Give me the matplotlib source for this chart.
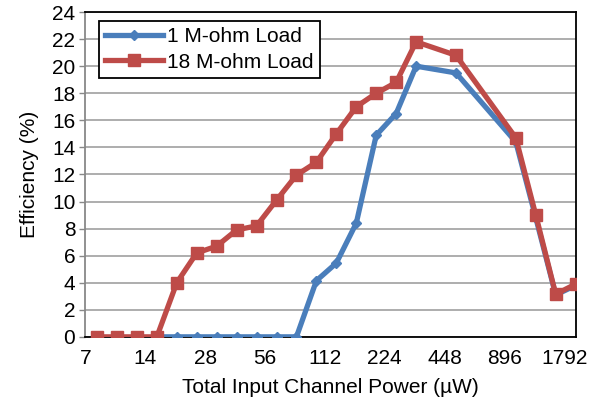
import matplotlib
matplotlib.use("Agg")
import matplotlib.pyplot as plt
import numpy as np

plt.rcParams['font.family'] = ['Liberation Sans', 'DejaVu Sans']

# power steps: 8 * 2^(k/3), k = 0..24
step_index = np.arange(25)
power_uw = 8 * 2 ** (step_index / 3)

eff_1m = [np.nan, np.nan, np.nan, 0, 0, 0, 0, 0, 0, 0, 0, 4.15, 5.45, 8.4, 14.9, 16.5,
          20.0, np.nan, 19.5, np.nan, np.nan, 14.4, 8.8, 3.1, 3.8]
eff_18m = [0, 0, 0, 0, 4.0, 6.2, 6.7, 7.9, 8.2, 10.1, 11.95, 12.9, 15.0, 17.0, 18.0, 18.8,
           21.8, np.nan, 20.8, np.nan, np.nan, 14.7, 9.0, 3.15, 3.9]

xticks = [7, 14, 28, 56, 112, 224, 448, 896, 1792]
yticks = list(range(0, 25, 2))

blue = '#4A7EBB'
red = '#BE4B48'

fig = plt.figure(figsize=(6.05, 4.01), dpi=100)
ax = fig.add_axes([0.1405, 0.160, 0.811, 0.810])

x1 = np.array(power_uw); y1 = np.array(eff_1m, dtype=float)
m1 = ~np.isnan(y1)
x2 = np.array(power_uw); y2 = np.array(eff_18m, dtype=float)
m2 = ~np.isnan(y2)

ax.plot(x1[m1], y1[m1], color=blue, lw=3.8, marker='D', ms=5.5, label='1 M-ohm Load', zorder=3)
ax.plot(x2[m2], y2[m2], color=red, lw=3.8, marker='s', ms=8.5, label='18 M-ohm Load', zorder=4)

ax.set_xscale('log', base=2)
ax.set_xlim(6.96, 2048)
ax.set_ylim(0, 24)
ax.set_xticks(xticks)
ax.set_xticklabels([str(t) for t in xticks])
ax.minorticks_off()
ax.set_yticks(yticks)
ax.tick_params(axis='both', labelsize=15, length=4, width=1, color='#888888')
ax.tick_params(axis='x', length=0, pad=9)
ax.tick_params(axis='y', pad=3)
ax.grid(axis='y', color='#A0A0A0', lw=1.2)
ax.set_axisbelow(True)
for s in ['top', 'right', 'bottom']:
    ax.spines[s].set_color('black')
    ax.spines[s].set_linewidth(1.3)
ax.spines['left'].set_color('#888888')
ax.spines['left'].set_linewidth(1.3)

ax.set_xlabel('Total Input Channel Power (µW)', fontsize=15, labelpad=7)
ax.set_ylabel('Efficiency (%)', fontsize=15, labelpad=9)

leg = ax.legend(loc='upper left', bbox_to_anchor=(0.028, 0.972), fontsize=15, frameon=True,
                fancybox=False, edgecolor='black', framealpha=1, handlelength=2.8,
                borderpad=0.3, labelspacing=0.3, handletextpad=0.2, borderaxespad=0)
leg.get_frame().set_linewidth(1.3)

fig.savefig('out.png', dpi=100)
